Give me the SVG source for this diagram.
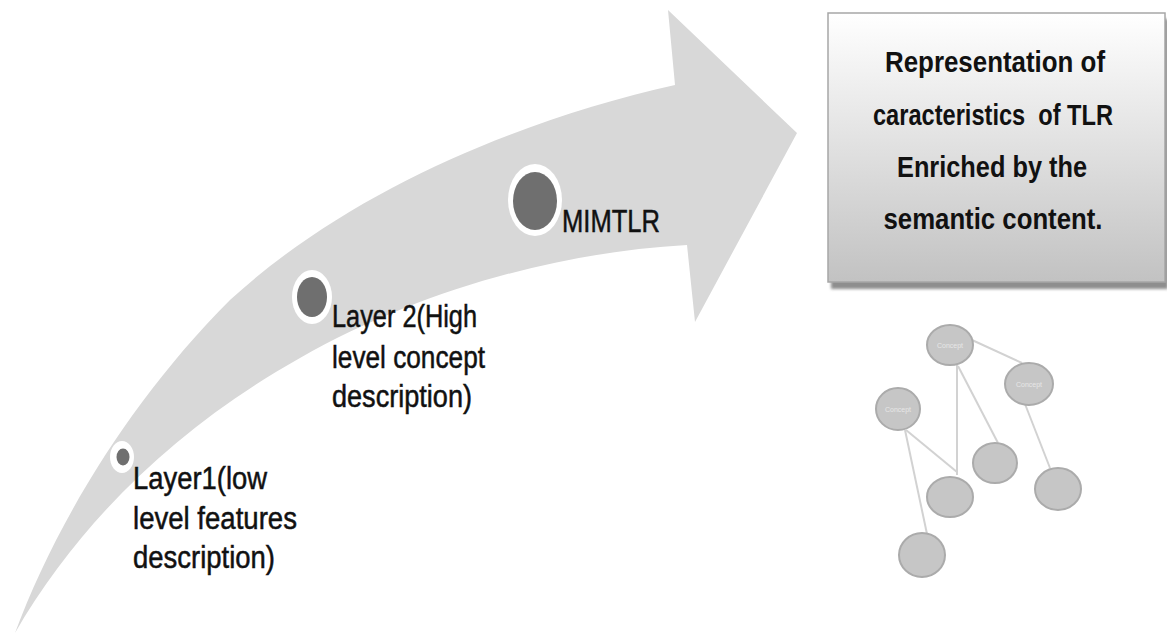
<svg xmlns="http://www.w3.org/2000/svg" width="1167" height="635" viewBox="0 0 1167 635">
<defs>
<linearGradient id="boxGrad" x1="0" y1="0" x2="0" y2="1">
<stop offset="0" stop-color="#ffffff"/>
<stop offset="1" stop-color="#c2c2c2"/>
</linearGradient>
<filter id="blur" x="-5%" y="-5%" width="110%" height="110%">
<feGaussianBlur stdDeviation="1.5"/>
</filter>
</defs>
<style>
.lbl{font-family:"Liberation Sans Narrow","Liberation Sans",Arial,sans-serif;font-size:31px;fill:#111;stroke:#111;stroke-width:0.5;}
.boxt{font-family:"Liberation Sans Narrow","Liberation Sans",Arial,sans-serif;font-size:29px;font-weight:bold;fill:#111;}
.ring{fill:#ffffff;}
.dot{fill:#6f6f6f;}
.gnode{fill:#c6c6c6;stroke:#ababab;stroke-width:2;}
.gedge{stroke:#d2d2d2;stroke-width:2;fill:none;}
.ctext{font-family:"Liberation Sans",Arial,sans-serif;font-size:7px;fill:#e6e6e6;text-anchor:middle;}
</style>
<rect width="1167" height="635" fill="#ffffff"/>

<g id="arrow">
<path d="M15,633 C55,525 130,400 230,300 C350,190 520,120 675,85 L668,10 L797,133 L695,322 L687,245 C560,252 420,290 300,358 C180,425 80,520 15,633 Z" fill="#d8d8d8"/>
</g>

<g id="layer1">
<ellipse class="ring" cx="122" cy="457" rx="12" ry="16"/>
<ellipse class="dot" cx="123" cy="457" rx="6.5" ry="8.5"/>
<text class="lbl" x="133" y="489" textLength="134" lengthAdjust="spacingAndGlyphs">Layer1(low</text>
<text class="lbl" x="133" y="529" textLength="164" lengthAdjust="spacingAndGlyphs">level features</text>
<text class="lbl" x="133" y="568" textLength="142" lengthAdjust="spacingAndGlyphs">description)</text>
</g>

<g id="layer2">
<ellipse class="ring" cx="312" cy="297" rx="20" ry="27"/>
<ellipse class="dot" cx="312" cy="297" rx="15" ry="20"/>
<text class="lbl" x="332" y="327" textLength="145" lengthAdjust="spacingAndGlyphs">Layer 2(High</text>
<text class="lbl" x="332" y="368" textLength="153" lengthAdjust="spacingAndGlyphs">level concept</text>
<text class="lbl" x="332" y="407" textLength="140" lengthAdjust="spacingAndGlyphs">description)</text>
</g>

<g id="mimtlr">
<ellipse class="ring" cx="535" cy="200" rx="27" ry="36"/>
<ellipse class="dot" cx="535" cy="201" rx="22" ry="29"/>
<text class="lbl" x="562" y="232" textLength="98" lengthAdjust="spacingAndGlyphs" style="font-size:32px">MIMTLR</text>
</g>

<g id="result-box">
<rect x="831" y="19" width="337" height="270" fill="#8e8e8e" filter="url(#blur)"/>
<rect x="828" y="13" width="337" height="269" fill="url(#boxGrad)" stroke="#a6a6a6" stroke-width="1.5"/>
<text class="boxt" x="995" y="72" text-anchor="middle" textLength="220" lengthAdjust="spacingAndGlyphs">Representation of</text>
<text class="boxt" x="993" y="125" text-anchor="middle" textLength="240" lengthAdjust="spacingAndGlyphs" xml:space="preserve">caracteristics  of TLR</text>
<text class="boxt" x="992" y="177" text-anchor="middle" textLength="190" lengthAdjust="spacingAndGlyphs">Enriched by the</text>
<text class="boxt" x="993" y="229" text-anchor="middle" textLength="219" lengthAdjust="spacingAndGlyphs">semantic content.</text>
</g>

<g id="graph-edges">
<line class="gedge" x1="972" y1="340" x2="1022" y2="363"/>
<line class="gedge" x1="957" y1="365" x2="957" y2="475"/>
<line class="gedge" x1="958" y1="366" x2="998" y2="443"/>
<line class="gedge" x1="906" y1="430" x2="957" y2="472"/>
<line class="gedge" x1="905" y1="430" x2="927" y2="534"/>
<line class="gedge" x1="1025" y1="404" x2="1050" y2="468"/>
</g>

<g id="g-node-a"><ellipse class="gnode" cx="950" cy="345" rx="23" ry="20"/><text class="ctext" x="950" y="348">Concept</text></g>
<g id="g-node-b"><ellipse class="gnode" cx="1029" cy="384" rx="24" ry="21"/><text class="ctext" x="1029" y="387">Concept</text></g>
<g id="g-node-c"><ellipse class="gnode" cx="898" cy="409" rx="22" ry="21"/><text class="ctext" x="898" y="412">Concept</text></g>
<g id="g-node-d"><ellipse class="gnode" cx="995" cy="463" rx="22" ry="20"/></g>
<g id="g-node-e"><ellipse class="gnode" cx="950" cy="497" rx="23" ry="20"/></g>
<g id="g-node-f"><ellipse class="gnode" cx="1058" cy="489" rx="23" ry="21"/></g>
<g id="g-node-g"><ellipse class="gnode" cx="922" cy="555" rx="23" ry="22"/></g>
</svg>
